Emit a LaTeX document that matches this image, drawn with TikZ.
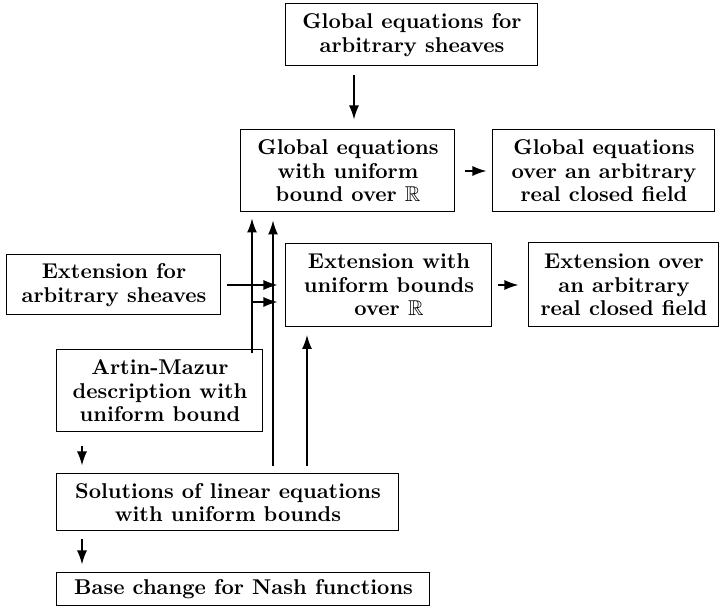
\documentclass[tikz,border=0pt]{standalone}
\usepackage{amsmath}
\usepackage{amsfonts}
\usepackage{tikz}
\usetikzlibrary{arrows, arrows.meta}

\begin{document}
\begin{tikzpicture}[x=0.5pt,y=-0.5pt,
  box/.style={draw,line width=0.5pt,align=center,inner sep=2pt,font=\fontsize{10.7pt}{11.8pt}\selectfont\bfseries},
  arr/.style={-{Latex[length=7pt,width=5pt]},line width=0.75pt,shorten <=4pt,shorten >=4pt}]
\useasboundingbox (0,0) rectangle (720,608);
% boxes
\node[box,minimum width=126pt,minimum height=31pt] (top) at (412,35) {Global equations for\\arbitrary sheaves};
\node[box,minimum width=107pt,minimum height=41pt] (gwu) at (348,171) {Global equations\\with uniform\\bound over $\mathbb{R}$};
\node[box,minimum width=111pt,minimum height=41pt] (gac) at (604,171) {Global equations\\over an arbitrary\\real closed field};
\node[box,minimum width=107pt,minimum height=30pt] (ext) at (114,285) {Extension for\\arbitrary sheaves};
\node[box,minimum width=103pt,minimum height=41.5pt] (exu) at (389,285) {Extension with\\uniform bounds\\over $\mathbb{R}$};
\node[box,minimum width=95pt,minimum height=42pt] (exa) at (624,285) {Extension over\\an arbitrary\\real closed field};
\node[box,minimum width=103pt,minimum height=41pt] (art) at (160,391) {Artin-Mazur\\description with\\uniform bound};
\node[box,minimum width=171pt,minimum height=28.5pt] (sol) at (228,502.5) {Solutions of linear equations\\with uniform bounds};
\node[box,minimum width=186.5pt,minimum height=16.5pt] (base) at (243.5,589.5) {Base change for Nash functions};
% x positions of the vertical arrows
\coordinate (xt) at (354,0);
\coordinate (xa) at (252,0);
\coordinate (xs) at (273,0);
\coordinate (xe) at (307,0);
\coordinate (xd) at (82,0);
\coordinate (br) at (252,302);
% arrows
\draw[arr,shorten <=4.5pt,shorten >=5pt] (top.south -| xt) -- (gwu.north -| xt);
\draw[arr,shorten >=3pt,shorten <=5pt] (gwu) -- (gac);
\draw[arr,shorten <=3pt] (ext.east) -- (ext.east -| exu.west);
\draw[arr,shorten >=5pt,shorten <=3pt] (exu) -- (exa);
\draw[arr,shorten <=-2pt,shorten >=3pt] (art.north -| xa) -- (gwu.south -| xa);
\draw[arr,shorten <=0pt] (br) -- (br -| exu.west);
\draw[arr,shorten <=3.5pt] (sol.north -| xs) -- (gwu.south -| xs);
\draw[arr,shorten <=3.5pt] (sol.north -| xe) -- (exu.south -| xe);
\draw[arr,shorten <=7pt] (art.south -| xd) -- (sol.north -| xd);
\draw[arr] (sol.south -| xd) -- (base.north -| xd);
\end{tikzpicture}
\end{document}
